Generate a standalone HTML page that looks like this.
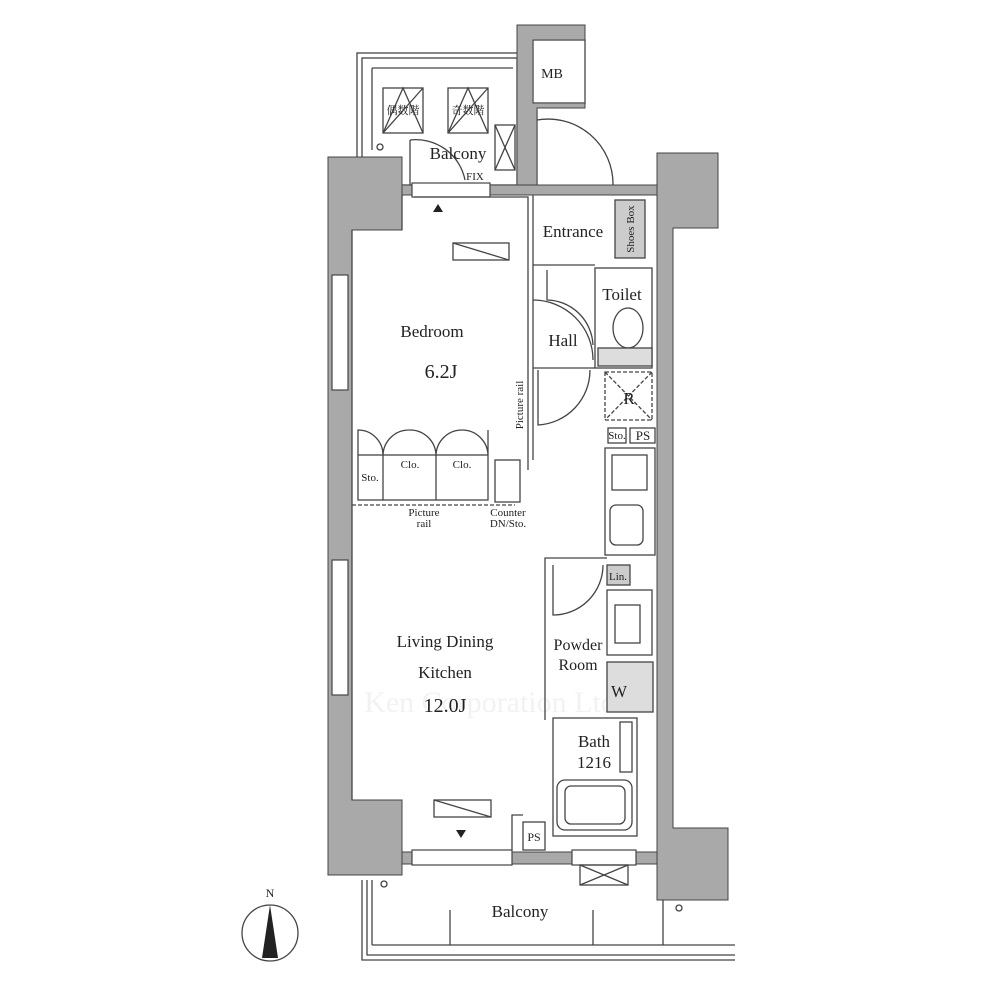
<!DOCTYPE html>
<html><head><meta charset="utf-8"><style>
html,body{margin:0;padding:0;background:#fff;}
svg{display:block;}
text{font-family:"Liberation Serif","Noto Serif CJK SC",serif;fill:#222;}
</style></head><body>
<svg width="1000" height="1000" viewBox="0 0 1000 1000" xmlns="http://www.w3.org/2000/svg">
<text x="490" y="712" font-size="30" text-anchor="middle" font-family="Liberation Sans,sans-serif" style="fill:#f2f2f2">Ken Corporation Ltd</text>
<g fill="none" stroke="#444" stroke-width="1.3">
<rect x="357" y="53" width="163" height="135"/>
<rect x="362" y="58" width="155" height="127"/>
<line x1="372" y1="68" x2="513" y2="68"/>
<line x1="372" y1="68" x2="372" y2="150"/>
<rect x="383" y="88" width="40" height="45"/>
<polyline points="383,133 403,88 423,133"/><line x1="383" y1="133" x2="423" y2="88"/>
<rect x="448" y="88" width="40" height="45"/>
<polyline points="448,133 468,88 488,133"/><line x1="448" y1="133" x2="488" y2="88"/>
<rect x="495" y="125" width="20" height="45"/>
<line x1="495" y1="125" x2="515" y2="170"/><line x1="515" y1="125" x2="495" y2="170"/>
<circle cx="380" cy="147" r="3"/>
<path d="M410 140 L410 185 M410 140 A50 50 0 0 1 465 180"/>
<rect x="533" y="40" width="52" height="63"/>
<path d="M537 110 L537 185 M537 120 A65 65 0 0 1 613 185"/>
</g>
<g fill="#a9a9a9" stroke="#444" stroke-width="1">
<path d="M517 25 L585 25 L585 40 L533 40 L533 103 L585 103 L585 108 L537 108 L537 190 L517 190 Z"/>
<path d="M328 157 L402 157 L402 230 L352 230 L352 800 L402 800 L402 875 L328 875 Z"/>
<path d="M657 153 L718 153 L718 228 L673 228 L673 828 L728 828 L728 900 L657 900 Z"/>
<rect x="402" y="185" width="12" height="10"/>
<rect x="490" y="185" width="167" height="10"/>
<rect x="402" y="852" width="10" height="12"/>
<rect x="512" y="852" width="60" height="12"/>
<rect x="636" y="852" width="21" height="12"/>
</g>
<g fill="#fff" stroke="#444" stroke-width="1.2">
<rect x="412" y="183" width="78" height="14"/>
<rect x="332" y="275" width="16" height="115"/>
<rect x="332" y="560" width="16" height="135"/>
<rect x="412" y="850" width="100" height="15"/>
<rect x="572" y="850" width="64" height="15"/>
</g>
<g fill="none" stroke="#444" stroke-width="1.3">
<rect x="580" y="865" width="48" height="20"/>
<line x1="580" y1="865" x2="628" y2="885"/><line x1="628" y1="865" x2="580" y2="885"/>
<polyline points="362,880 362,960 735,960"/>
<polyline points="367,880 367,955 735,955"/>
<line x1="372" y1="880" x2="372" y2="945"/><line x1="372" y1="945" x2="735" y2="945"/>
<line x1="450" y1="910" x2="450" y2="945"/><line x1="593" y1="910" x2="593" y2="945"/>
<line x1="663" y1="900" x2="663" y2="945"/>
<circle cx="384" cy="884" r="3"/><circle cx="679" cy="908" r="3"/>
<line x1="352" y1="230" x2="352" y2="800"/>
<line x1="402" y1="195" x2="402" y2="230"/>
<polyline points="414,197 528,197 528,470"/>
<polyline points="533,195 533,460"/>
<line x1="352" y1="505" x2="515" y2="505" stroke-dasharray="4 2"/>
<rect x="358" y="455" width="130" height="45"/>
<line x1="383" y1="455" x2="383" y2="500"/><line x1="436" y1="455" x2="436" y2="500"/>
<path d="M358 455 L358 430 A25 25 0 0 1 383 455 M383 455 A26 26 0 0 1 409 430 A26 26 0 0 1 436 455 M436 455 A26 26 0 0 1 462 430 A26 26 0 0 1 488 455 L488 430"/>
<line x1="533" y1="265" x2="595" y2="265"/>
<rect x="595" y="268" width="57" height="100"/>
<rect x="615" y="200" width="30" height="58" fill="#ccc"/>
<path d="M547 270 L547 300 A47 47 0 0 1 593 345"/>
<path d="M533 300 A60 60 0 0 1 593 360"/>
<path d="M538 370 L538 425 A55 55 0 0 0 590 370"/>
<line x1="533" y1="368" x2="595" y2="368"/>
<ellipse cx="628" cy="328" rx="15" ry="20"/>
<rect x="598" y="348" width="54" height="18" fill="#ddd"/>
<rect x="605" y="372" width="47" height="48" stroke-dasharray="4 2"/>
<line x1="605" y1="372" x2="652" y2="420" stroke-dasharray="4 2"/><line x1="652" y1="372" x2="605" y2="420" stroke-dasharray="4 2"/>
<rect x="608" y="428" width="18" height="15"/><rect x="630" y="428" width="25" height="15"/>
<rect x="605" y="448" width="50" height="107"/>
<rect x="612" y="455" width="35" height="35"/>
<rect x="610" y="505" width="33" height="40" rx="6"/>
<rect x="495" y="460" width="25" height="42"/>
<polyline points="545,720 545,558 607,558"/>
<path d="M553 565 L553 615 A50 50 0 0 0 603 565"/>
<rect x="607" y="565" width="23" height="20" fill="#ccc"/>
<rect x="607" y="590" width="45" height="65"/>
<rect x="615" y="605" width="25" height="38"/>
<rect x="607" y="662" width="46" height="50" fill="#ddd"/>
<rect x="553" y="718" width="84" height="118"/>
<rect x="557" y="780" width="75" height="50" rx="8"/>
<rect x="565" y="786" width="60" height="38" rx="6"/>
<rect x="620" y="722" width="12" height="50"/>
<rect x="523" y="822" width="22" height="28"/>
<polyline points="512,850 512,815 523,815"/>
<rect x="453" y="243" width="56" height="17"/><line x1="453" y1="243" x2="509" y2="260"/>
<rect x="434" y="800" width="57" height="17"/><line x1="434" y1="800" x2="491" y2="817"/>
<circle cx="270" cy="933" r="28"/>
</g>
<polygon points="270,905 262,958 278,958" fill="#222"/>
<polygon points="433,212 438,204 443,212" fill="#222"/>
<polygon points="456,830 461,838 466,830" fill="#222"/>
<g font-size="17" text-anchor="middle">
<text x="458" y="159">Balcony</text>
<text x="573" y="237">Entrance</text>
<text x="622" y="300">Toilet</text>
<text x="563" y="346">Hall</text>
<text x="432" y="337">Bedroom</text>
<text x="441" y="378" font-size="20">6.2J</text>
<text x="445" y="647">Living Dining</text>
<text x="445" y="678">Kitchen</text>
<text x="445" y="712" font-size="20">12.0J</text>
<text x="578" y="650" font-size="16">Powder</text>
<text x="578" y="670" font-size="16">Room</text>
<text x="594" y="747">Bath</text>
<text x="594" y="768">1216</text>
<text x="520" y="917">Balcony</text>
<text x="629" y="404">R</text>
<text x="619" y="697">W</text>
</g>
<g font-size="11" text-anchor="middle">
<text x="552" y="78" font-size="14">MB</text>
<text x="475" y="180">FIX</text>
<text x="403" y="114" font-family="Noto Serif CJK JP,serif">偶数階</text>
<text x="468" y="114" font-family="Noto Serif CJK JP,serif">奇数階</text>
<text x="370" y="481">Sto.</text>
<text x="410" y="468">Clo.</text>
<text x="462" y="468">Clo.</text>
<text x="424" y="516">Picture</text>
<text x="424" y="527">rail</text>
<text x="508" y="516">Counter</text>
<text x="508" y="527">DN/Sto.</text>
<text x="617" y="439">Sto.</text>
<text x="643" y="440" font-size="13">PS</text>
<text x="618" y="580">Lin.</text>
<text x="534" y="841" font-size="12">PS</text>
<text x="270" y="897" font-size="12" font-family="Liberation Sans,sans-serif">N</text>
<text transform="translate(523,405) rotate(-90)">Picture rail</text>
<text transform="translate(634,229) rotate(-90)">Shoes Box</text>
</g>
</svg>
</body></html>
